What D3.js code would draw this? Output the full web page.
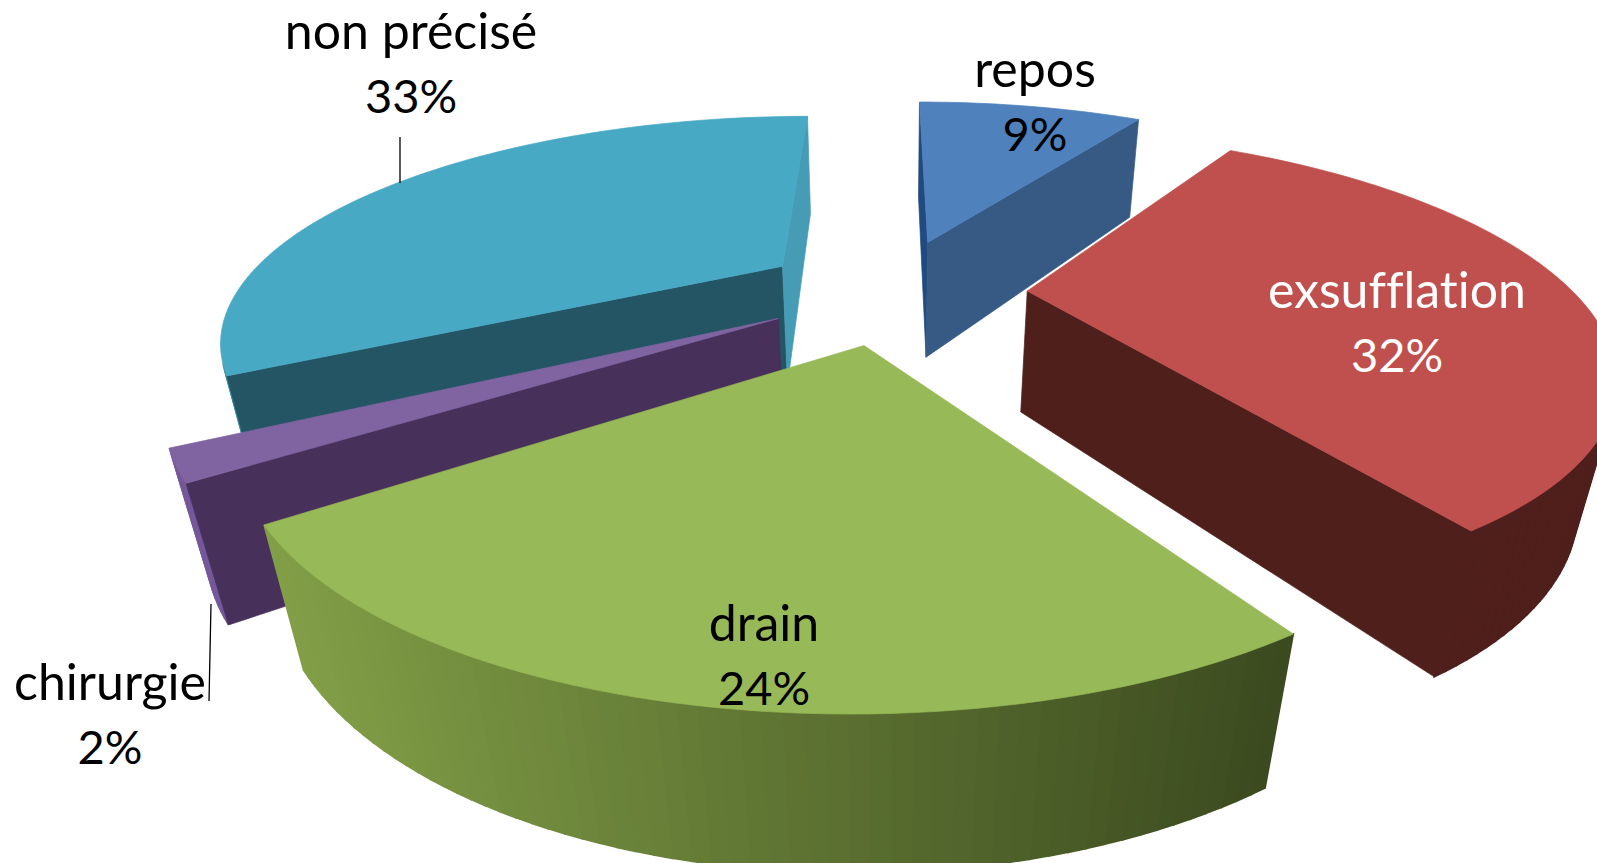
<!DOCTYPE html>
<html>
<head>
<meta charset="utf-8">
<script src="https://cdn.jsdelivr.net/npm/d3@7"></script>
<style>
html,body{margin:0;padding:0;background:#fff;overflow:hidden}
text{font-family:Lato,"Open Sans",sans-serif;text-anchor:middle;font-variant-ligatures:none}
</style>
</head>
<body>
<script>
const categories = ["repos","exsufflation","drain","chirurgie","non précisé"]
const percents = [9,32,24,2,33]

// slice offset from the centre, in radius units
const explode = [0.26,0.25,0.245,0.235,0.24]
const topColors = ["#4f81bd","#c0504d","#98b957","#8064a2","#48a9c5"]
const startFace = ["#204a80","#4f1f1c","#4c6124","#47305a","#245565"]
const endFace = ["#375a85","#4f1f1c","#4c6124","#47305a","#479cb5"]
const outerLeft = ["#204a80","#4f1f1c","#829f47","#75589b","#3c8ca3"]
const outerRight = ["#204a80","#4f1f1c","#3b4a1f","#75589b","#3c8ca3"]
const textColors = ["#000","#fff","#000","#000","#000"]
const labelX = [1035,1397,764,110,411]
const labelY = [87,308,641,700,49]
const drawOrder = [0,4,1,3,2]

const width = 1597, height = 863
const cx = 891, cy = 291, R = 545, tilt = 0.385, persp = 0.31, H = 127, depth = 0.05

const svg = d3.select("body").append("svg")
    .attr("width",width).attr("height",height)

const pie = d3.pie().sort(null)
const slices = pie(percents)

// disc coords -> screen, y is 0 on the top face and 1 on the bottom
function project(x,z,y){
    const s = 1/(1 - persp*z + depth*y)
    return [cx + R*x*s, cy + R*tilt*z*s + H*y*s]
}

const line = d3.line()

function poly(pts,fill,sw){
    svg.append("path")
    .attr("d",line(pts)+"Z")
    .attr("fill",fill)
    .attr("stroke",fill)
    .attr("stroke-width",sw||0.7)
}

drawOrder.forEach(i=>{
    const d = slices[i]
    const mid = (d.startAngle+d.endAngle)/2
    const ox = explode[i]*Math.sin(mid), oz = -explode[i]*Math.cos(mid)
    const rim = (a,y)=>project(ox+Math.sin(a),oz-Math.cos(a),y)
    const apex = y=>project(ox,oz,y)

    const n = Math.max(4,Math.ceil((d.endAngle-d.startAngle)*40))
    const angles = d3.range(n+1).map(k=>d.startAngle+(d.endAngle-d.startAngle)*k/n)

    const xs = angles.map(a=>rim(a,0)[0])
    const shade = d3.scaleLinear().domain(d3.extent(xs)).range([outerLeft[i],outerRight[i]])
    for(let k=0;k<n;k++){
        const q = [rim(angles[k],0),rim(angles[k+1],0),rim(angles[k+1],1),rim(angles[k],1)]
        if(d3.polygonArea(q)>0) poly(q,shade((q[0][0]+q[1][0])/2),1.6)
    }

    const sf = [apex(0),rim(d.startAngle,0),rim(d.startAngle,1),apex(1)]
    const ef = [rim(d.endAngle,0),apex(0),apex(1),rim(d.endAngle,1)]
    if(d3.polygonArea(sf)>0) poly(sf,startFace[i])
    if(d3.polygonArea(ef)>0) poly(ef,endFace[i])

    poly([apex(0)].concat(angles.map(a=>rim(a,0))),topColors[i])
})

// leader lines
svg.append("path").attr("d","M400,137V183").attr("stroke","#000").attr("stroke-width",1.3).attr("fill","none")
svg.append("path").attr("d","M211,604L209,701").attr("stroke","#000").attr("stroke-width",1.3).attr("fill","none")

categories.forEach((c,i)=>{
    svg.append("text").attr("x",labelX[i]).attr("y",labelY[i]).attr("fill",textColors[i]).attr("font-size",50).text(c)
    svg.append("text").attr("x",labelX[i]).attr("y",labelY[i]+64).attr("fill",textColors[i]).attr("font-size",47).text(percents[i]+"%")
})
</script>
</body>
</html>
